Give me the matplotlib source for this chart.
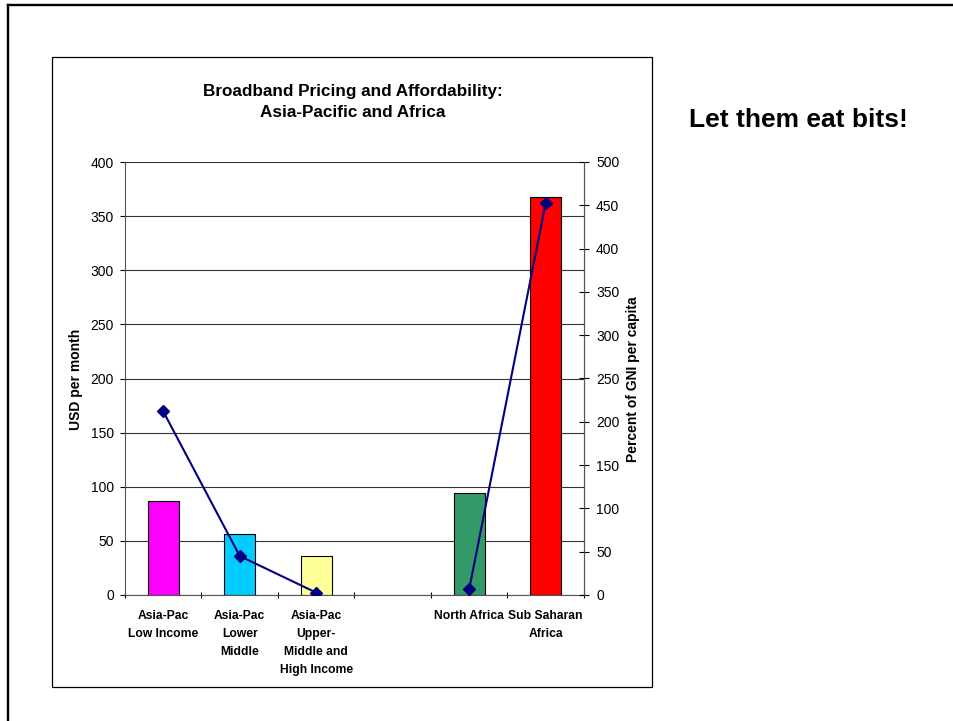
import matplotlib
matplotlib.use("Agg")
from matplotlib import pyplot as plt
from matplotlib.patches import Rectangle
from matplotlib.lines import Line2D
import numpy as np

plt.rcParams["font.family"] = ["Liberation Sans", "DejaVu Sans"]

# Data
categories = ["Asia-Pac\nLow Income", "Asia-Pac\nLower\nMiddle",
              "Asia-Pac\nUpper-\nMiddle and\nHigh Income", "",
              "North Africa", "Sub Saharan\nAfrica"]
usd_per_month = [87, 56.5, 35.8, np.nan, 94.5, 368]
pct_gni = [212, 45, 2.7, np.nan, 7, 453]
bar_colors = ["#FF00FF", "#00CCFF", "#FFFF99", "white", "#339966", "#FF0000"]

left_ticks = list(range(0, 401, 50))
right_ticks = list(range(0, 501, 50))

fig = plt.figure(figsize=(9.54, 7.21), dpi=100)

# slide frame (top and left edges) and chart box
fig.add_artist(Line2D([8 / 954, 8 / 954], [0, 1 - 5 / 721], color="black", lw=1.7,
                      transform=fig.transFigure))
fig.add_artist(Line2D([8 / 954, 1], [1 - 5 / 721, 1 - 5 / 721], color="black", lw=1.7,
                      transform=fig.transFigure))
fig.add_artist(Rectangle((52 / 954, 1 - 687 / 721), 600 / 954, 630 / 721,
                         fill=False, edgecolor="black", lw=0.9,
                         transform=fig.transFigure))

ax = fig.add_axes([125 / 954, 1 - 595 / 721, 459 / 954, 433 / 721])
x = np.arange(len(categories))

ax.bar(x, usd_per_month, width=0.4, color=bar_colors, edgecolor="black",
       linewidth=0.8, zorder=2)
ax.set_xlim(-0.5, len(categories) - 0.5)
ax.set_ylim(0, 400)
ax.set_yticks(left_ticks)
ax.yaxis.grid(True, color="#333333", linewidth=0.8)
ax.set_axisbelow(True)

ax.set_xticks(x)
ax.set_xticklabels(categories, fontsize=8.7, fontweight="bold", linespacing=1.65)
ax.set_xticks(np.arange(-0.5, len(categories)), minor=True)
ax.tick_params(axis="x", which="major", length=0, pad=11)
ax.tick_params(axis="x", which="minor", direction="inout", length=5, width=0.8)
ax.tick_params(axis="y", direction="out", length=3.6, width=0.8, pad=4.3,
               labelsize=10)

for side in ["left", "bottom", "right"]:
    ax.spines[side].set_color("#555555")
ax.spines["top"].set_visible(False)

ax2 = ax.twinx()
ax2.plot(x, pct_gni, color="#000080", linewidth=1.5, marker="D",
         markersize=6.5, zorder=3)
ax2.set_ylim(0, 500)
ax2.set_yticks(right_ticks)
ax2.tick_params(axis="y", direction="inout", length=6.5, width=0.8, pad=5.4,
                labelsize=10)
ax2.spines["top"].set_visible(False)
ax2.spines["right"].set_color("#555555")
ax2.spines["left"].set_visible(False)
ax2.spines["bottom"].set_visible(False)

fig.text(76 / 954, 1 - 379 / 721, "USD per month", rotation=90, ha="center",
         va="center", fontsize=10, fontweight="bold")
fig.text(633 / 954, 1 - 379 / 721, "Percent of GNI per capita", rotation=90,
         ha="center", va="center", fontsize=10, fontweight="bold")

fig.text(353 / 954, 1 - 102 / 721,
         "Broadband Pricing and Affordability:\nAsia-Pacific and Africa",
         ha="center", va="center", fontsize=12.3, fontweight="bold",
         linespacing=1.45)

fig.text(689 / 954, 1 - 120 / 721, "Let them eat bits!", ha="left", va="center",
         fontsize=19, fontweight="bold")

fig.savefig("out.png", dpi=100)
